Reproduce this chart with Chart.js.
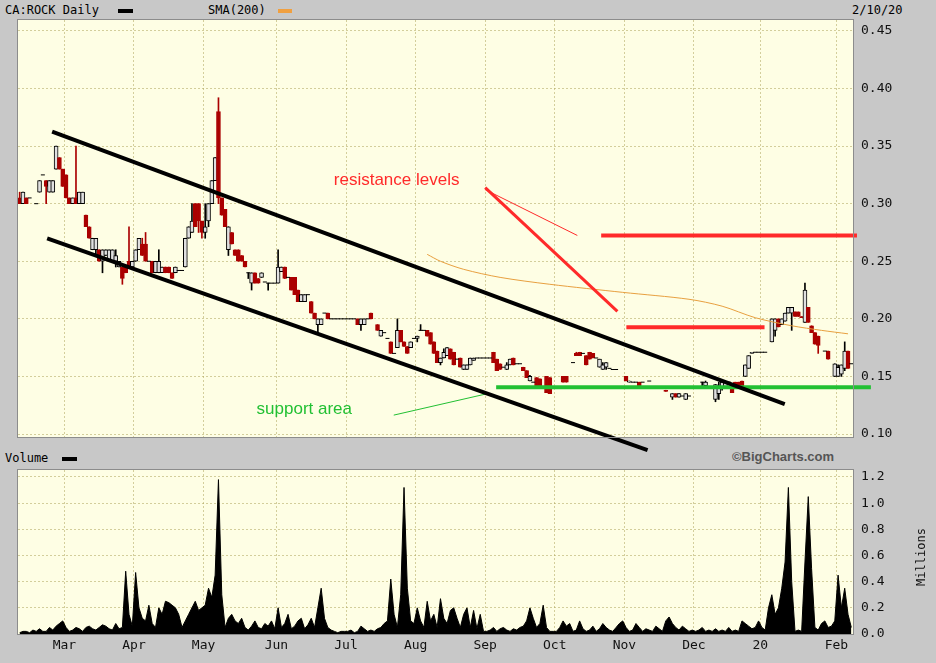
<!DOCTYPE html>
<html><head><meta charset="utf-8">
<script src="https://cdn.jsdelivr.net/npm/chart.js@4.4.1/dist/chart.umd.min.js"></script>
<style>
html,body{margin:0;padding:0;}
body{width:936px;height:663px;background:#c8c8c8;position:relative;overflow:hidden;font-family:'DejaVu Sans Mono',monospace;}
.t{position:absolute;font-size:12px;color:#000;white-space:nowrap;line-height:14px;}
.sw{position:absolute;height:4px;}
canvas{position:absolute;left:0;}
</style></head><body>
<div class="t" style="left:5px;top:3px">CA:ROCK Daily</div>
<div class="sw" style="left:118px;top:9px;width:15px;background:#000"></div>
<div class="t" style="left:208px;top:3px">SMA(200)</div>
<div class="sw" style="left:278px;top:9px;width:14px;background:#f0a040"></div>
<div class="t" style="left:852px;top:3px">2/10/20</div>
<div class="t" style="left:5px;top:451px">Volume</div>
<div class="sw" style="left:62px;top:457px;width:15px;background:#000"></div>
<div class="t" style="left:732px;top:450px;font-family:'Liberation Sans',sans-serif;font-weight:bold;font-size:13px;color:#555">©BigCharts.com</div>
<canvas id="vc" width="936" height="223" style="top:440px"></canvas>
<canvas id="pc" width="936" height="470" style="top:0"></canvas>
<script>
// ---- OHLC per trading day, grouped by month: [open, high, low, close]; null = no trade
const feb19=[[.305,.31,.30,.30],[.30,.31,.30,.31],[.305,.305,.30,.30],[.305,.305,.305,.305],null,[.30,.30,.30,.30],[.31,.32,.31,.32],[.325,.325,.325,.325],[.32,.32,.30,.315],[.31,.32,.31,.32],[.31,.32,.31,.32],[.33,.35,.33,.35],[.34,.34,.33,.33],[.33,.33,.315,.315]];
const mar19=[[.325,.325,.305,.305],[.305,.305,.30,.30],[.30,.305,.30,.305],[.305,.35,.30,.30],[.30,.31,.30,.31],[.30,.31,.30,.31],[.29,.29,.28,.28],[.28,.28,.27,.27],[.26,.27,.26,.27],[.26,.27,.255,.27],[.26,.26,.25,.25],[.25,.26,.24,.26],[.255,.26,.255,.26],[.25,.26,.25,.26],[.25,.26,.25,.26],[.25,.26,.245,.255],[.245,.25,.245,.25],[.245,.245,.23,.235],[.245,.245,.24,.24],[.25,.28,.245,.245],[.245,.25,.245,.25]];
const apr19=[[.25,.26,.25,.26],[.26,.27,.26,.27],[.265,.27,.255,.255],[.265,.275,.25,.25],[.25,.25,.25,.25],[.25,.25,.24,.24],[.24,.25,.24,.25],[.24,.26,.24,.25],[.24,.245,.24,.245],[.245,.245,.24,.24],[.245,.245,.24,.24],[.24,.24,.235,.235],[.24,.245,.24,.245],[.242,.242,.242,.242],[.242,.242,.242,.242],[.245,.27,.245,.27],[.27,.28,.27,.28],[.275,.30,.275,.285],[.30,.30,.28,.28],[.30,.30,.275,.285],[.285,.285,.27,.275]];
const may19=[[.275,.30,.27,.28],[.285,.30,.28,.30],[.30,.32,.30,.32],[.32,.34,.32,.34],[.38,.392,.30,.305],[.305,.305,.29,.29],[.295,.295,.28,.28],[.26,.28,.255,.28],[.275,.275,.265,.265],[.26,.26,.255,.255],[.26,.26,.25,.25],[.255,.255,.25,.25],[.25,.25,.245,.245],[.24,.24,.235,.24],[.231,.24,.225,.24],[.24,.24,.231,.231],[.235,.235,.231,.231],[.236,.24,.236,.24],[.232,.232,.232,.232],[.231,.231,.225,.231],[.231,.231,.231,.231],[.231,.231,.231,.231]];
const jun19=[[.231,.26,.231,.245],[.241,.245,.241,.245],[.245,.245,.235,.235],[.236,.236,.236,.236],[.236,.236,.225,.225],[.236,.236,.221,.221],[.225,.225,.215,.215],[.215,.221,.215,.221],[.215,.221,.215,.221],[.221,.221,.221,.221],[.215,.215,.205,.205],[.205,.205,.20,.20],[.195,.20,.187,.20],[.195,.20,.195,.20],[.205,.205,.205,.205],[.205,.205,.20,.20],[.20,.20,.20,.20],[.20,.20,.20,.20],[.20,.20,.20,.20],[.20,.20,.20,.20],[.20,.20,.20,.20]];
const jul19=[[.20,.20,.20,.20],[.20,.20,.20,.20],[.20,.20,.20,.20],[.20,.20,.195,.195],[.195,.20,.19,.20],[.195,.20,.195,.20],[.20,.20,.20,.20],[.205,.205,.20,.20],null,[.195,.195,.19,.19],[.185,.19,.185,.19],[.188,.188,.188,.188],[.183,.183,.183,.183],[.18,.18,.17,.17],[.17,.17,.17,.17],[.175,.20,.175,.19],[.19,.19,.18,.18],[.18,.18,.176,.176],[.176,.176,.17,.17],[.175,.18,.175,.18],[.183,.183,.183,.183]];
const aug19=[[.183,.185,.18,.185],[.19,.195,.19,.19],[.19,.19,.19,.19],[.19,.19,.185,.185],[.188,.188,.178,.178],[.18,.18,.17,.17],[.172,.172,.162,.162],[.162,.166,.16,.166],[.166,.174,.166,.171],[.168,.175,.168,.175],[.174,.174,.165,.165],[.171,.171,.16,.16],[.165,.165,.165,.165],[.166,.166,.158,.158],[.156,.16,.156,.16],[.156,.16,.156,.16],[.16,.166,.16,.166],[.164,.166,.164,.166],[.166,.166,.166,.166],[.166,.166,.166,.166],[.166,.166,.166,.166]];
const sep19=[[.166,.166,.166,.166],[.166,.166,.166,.166],[.171,.171,.162,.162],[.165,.165,.155,.155],[.161,.161,.156,.156],[.158,.158,.158,.158],[.156,.162,.156,.16],[.16,.165,.16,.165],[.166,.166,.16,.16],[.161,.161,.161,.161],[.161,.161,.161,.161],[.158,.158,.155,.155],[.155,.155,.149,.149],[.146,.151,.146,.15],[.145,.145,.145,.145],[.149,.149,.14,.14],[.148,.148,.14,.14],null,[.15,.15,.136,.136],[.149,.149,.135,.135],[.14,.14,.14,.14]];
const oct19=[[.14,.14,.14,.14],null,[.15,.15,.145,.145],[.15,.15,.145,.145],null,[.162,.162,.162,.162],[.17,.171,.168,.168],[.171,.171,.168,.168],[.17,.17,.17,.17],[.168,.168,.16,.16],[.171,.171,.165,.165],[.17,.17,.166,.166],[.166,.166,.166,.166],[.158,.165,.158,.165],[.156,.162,.156,.16],[.158,.162,.156,.162],[.157,.157,.157,.157],[.156,.156,.156,.156],[.156,.156,.156,.156],null,null];
const nov19=[[.15,.15,.146,.146],[.145,.146,.145,.146],[.145,.145,.145,.145],[.145,.145,.145,.145],[.145,.145,.142,.142],[.145,.145,.145,.145],null,[.146,.146,.146,.146],null,null,null,null,[.138,.138,.137,.137],null,[.132,.135,.13,.135],[.135,.135,.132,.132],[.132,.135,.132,.135],[.133,.133,.133,.133],[.13,.135,.13,.135],[.133,.133,.133,.133],null];
const dec19=[null,null,[.145,.145,.142,.145],[.142,.146,.142,.145],null,null,[.13,.143,.128,.143],[.135,.145,.13,.14],[.14,.145,.138,.145],[.14,.145,.14,.145],[.145,.145,.145,.145],[.142,.142,.136,.136],[.145,.145,.14,.14],[.145,.145,.141,.141],[.146,.146,.142,.142],[.15,.16,.15,.16],[.157,.168,.157,.168],[.17,.171,.17,.171],[.171,.171,.171,.171],[.171,.171,.171,.171]];
const jan20=[[.171,.171,.171,.171],[.171,.171,.171,.171],null,[.18,.20,.18,.20],[.19,.20,.185,.20],[.20,.20,.193,.193],[.195,.20,.195,.20],[.198,.205,.198,.205],[.205,.21,.205,.21],[.205,.21,.19,.21],[.206,.206,.202,.202],[.206,.206,.202,.202],[.202,.202,.201,.201],[.197,.231,.197,.225],[.21,.21,.197,.197],[.194,.194,.188,.188],[.188,.188,.178,.178],[.185,.185,.17,.177],null,[.172,.172,.172,.172],[.172,.172,.165,.165],null,[.15,.161,.15,.161]];
const feb20=[[.15,.16,.15,.158],[.152,.16,.15,.16],[.157,.18,.155,.172],[.172,.172,.157,.157],[.161,.161,.161,.161]];

// ---- Volume (millions) per trading day
const volFeb19=[0.01,0.02,0.02,0.01,0.03,0.02,0.04,0.02,0.02,0.05,0.03,0.06,0.08,0.1];
const volMar19=[0.05,0.02,0.03,0.05,0.04,0.02,0.05,0.06,0.04,0.03,0.05,0.07,0.06,0.04,0.03,0.08,0.04,0.05,0.48,0.15,0.06];
const volApr19=[0.47,0.2,0.12,0.1,0.22,0.08,0.05,0.2,0.15,0.25,0.24,0.22,0.2,0.15,0.05,0.1,0.15,0.2,0.25,0.18,0.2];
const volMay19=[0.22,0.35,0.28,0.45,1.18,0.3,0.05,0.12,0.15,0.1,0.08,0.12,0.05,0.03,0.06,0.1,0.05,0.04,0.08,0.06,0.1,0.04];
const volJun19=[0.2,0.05,0.08,0.15,0.04,0.06,0.1,0.12,0.04,0.07,0.12,0.05,0.2,0.35,0.12,0.05,0.03,0.02,0.01,0.02,0.02];
const volJul19=[0.02,0.03,0.01,0.02,0.06,0.04,0.02,0.03,0.02,0.04,0.05,0.08,0.1,0.42,0.15,0.05,0.3,1.12,0.35,0.1,0.08];
const volAug19=[0.2,0.1,0.05,0.25,0.1,0.15,0.05,0.27,0.12,0.08,0.18,0.2,0.12,0.05,0.15,0.2,0.05,0.18,0.04,0.15,0.02];
const volSep19=[0.02,0.03,0.05,0.02,0.04,0.05,0.03,0.02,0.04,0.03,0.05,0.06,0.1,0.2,0.12,0.05,0.08,0.22,0.05,0.02,0.02];
const volOct19=[0.02,0.05,0.1,0.06,0.08,0.02,0.03,0.1,0.04,0.02,0.03,0.06,0.02,0.04,0.08,0.05,0.03,0.02,0.05,0.08,0.1];
const volNov19=[0.05,0.02,0.03,0.08,0.05,0.02,0.04,0.03,0.02,0.06,0.04,0.02,0.1,0.13,0.08,0.05,0.03,0.06,0.04,0.02,0.03];
const volDec19=[0.02,0.03,0.05,0.02,0.03,0.02,0.04,0.02,0.03,0.02,0.05,0.02,0.03,0.02,0.1,0.08,0.06,0.04,0.05,0.1];
const volJan20=[0.05,0.03,0.2,0.3,0.15,0.2,0.35,0.55,1.12,0.4,0.02,0.03,0.02,0.55,1.05,0.5,0.05,0.03,0.08,0.1,0.05,0.06,0.1];
const volFeb20=[0.45,0.2,0.35,0.15,0.05];

const monthLabels=['','Mar','Apr','May','Jun','Jul','Aug','Sep','Oct','Nov','Dec','20','Feb'];
const priceTicks=[0.10,0.15,0.20,0.25,0.30,0.35,0.40,0.45];
const volTicks=[0,0.2,0.4,0.6,0.8,1.0,1.2];

// SMA(200) read at a few trading-day positions
const smaIdx=[123,127,134,145,160,182,202,212,222,233,242,250];
const smaVal=[.256,.250,.243,.236,.230,.223,.217,.211,.201,.194,.190,.187];

// hand-drawn annotations: [tradingDayIndex, price]
const channelUpper=[[9.8,.3625],[230.9,.1259]];
const channelLower=[[8.3,.2698],[189.5,.0861]];
const resistTop=[[175.5,.2724],[252.7,.2724]];
const resistMid=[[183.1,.1926],[224.8,.1926]];
const supportLine=[[143.8,.1406],[256.9,.1406]];
const arrowThick=[[140.5,.314],[180.4,.2065]];
const arrowThin=[[140.5,.3122],[168.3,.2724]];
const supportPointer=[[112.9,.1164],[140.5,.1346]];
const notes=[{text:'resistance levels',i:94.8,p:.320,color:'#ff2a2a'},{text:'support area',i:71.5,p:.1216,color:'#22c033'}];

// ---- build
const months=[feb19,mar19,apr19,may19,jun19,jul19,aug19,sep19,oct19,nov19,dec19,jan20,feb20];
const bars=months.flat();
const vols=[volFeb19,volMar19,volApr19,volMay19,volJun19,volJul19,volAug19,volSep19,volOct19,volNov19,volDec19,volJan20,volFeb20].flat();
const N=bars.length;
const monthTickVals=[];let acc=0;
months.forEach((m,k)=>{ if(k>0) monthTickVals.push(acc-0.5); acc+=m.length; });
const RED='#aa0000';
const wicks=[],bodies=[],flats=[];
bars.forEach((b,i)=>{ if(!b) return; const [o,h,l,c]=b;
  if(h>l) wicks.push({x:i,y:[l,h],d:c<o});
  if(o!==c) bodies.push({x:i,y:[o,c],d:c<o}); else flats.push({x:i,y:o});
});
const line=(pts,color,w,ord)=>({type:'line',data:pts.map(p=>({x:p[0],y:p[1]})),borderColor:color,borderWidth:w,pointRadius:0,clip:false,order:ord,tension:0});
const gridCol='rgba(175,165,95,0.55)';
const bgPlugin={id:'bg',
  beforeDraw(ch){const {ctx,chartArea:a}=ch;ctx.save();ctx.fillStyle='#fefee4';ctx.fillRect(a.left,a.top,a.right-a.left,a.bottom-a.top);ctx.restore();},
  afterDraw(ch){const {ctx,chartArea:a}=ch;ctx.save();ctx.strokeStyle='#8c8c8c';ctx.lineWidth=1;ctx.strokeRect(a.left-0.5,a.top-0.5,a.right-a.left+1,a.bottom-a.top+1);ctx.restore();}
};
const notesPlugin={id:'notes',afterDatasetsDraw(ch){const {ctx}=ch;const x=ch.scales.x,y=ch.scales.y;ctx.save();ctx.font='17px "Liberation Sans", Arial, sans-serif';ctx.textBaseline='middle';
  notes.forEach(n=>{ctx.fillStyle=n.color;ctx.fillText(n.text,x.getPixelForValue(n.i),y.getPixelForValue(n.p));});ctx.restore();}};
const tickFont={family:'DejaVu Sans Mono',size:13};

new Chart(document.getElementById('pc'),{
  type:'bar',
  data:{datasets:[
    line(channelUpper,'#000',4,1),line(channelLower,'#000',4,1),
    line(resistTop,'#ff2a2a',4,1),line(resistMid,'#ff2a2a',4,1),line(arrowThick,'#ff2a2a',3,1),line(arrowThin,'#ff2a2a',1,1),
    line(supportLine,'#22c033',4,1),line(supportPointer,'#22c033',1,1),
    {type:'line',data:smaIdx.map((v,k)=>({x:v,y:smaVal[k]})),borderColor:'#e8a040',borderWidth:1,pointRadius:0,order:3,tension:0.3},
    {type:'line',data:flats,showLine:false,pointStyle:'line',pointRadius:2,borderColor:'#000',borderWidth:1,order:4},
    {type:'bar',data:bodies,grouped:false,barThickness:4,borderWidth:1,borderSkipped:false,
      backgroundColor:c=>c.raw&&c.raw.d?RED:'#e0e0e0',borderColor:c=>c.raw&&c.raw.d?RED:'#000',order:4},
    {type:'bar',data:wicks,grouped:false,barThickness:1,borderWidth:0,
      backgroundColor:c=>c.raw&&c.raw.d?RED:'#000',order:5}
  ]},
  options:{responsive:false,animation:false,devicePixelRatio:1,
    layout:{padding:{left:18,top:20,right:0,bottom:33}},
    plugins:{legend:{display:false},tooltip:{enabled:false}},
    scales:{
      x:{type:'linear',min:-0.5,max:N-0.5,offset:false,
        afterBuildTicks:s=>{s.ticks=monthTickVals.map(v=>({value:v}));},
        afterFit:s=>{s.height=0;},
        ticks:{display:false},grid:{color:gridCol,drawTicks:false,offset:false},border:{display:false,dash:[2,2]}},
      y:{position:'right',min:0.0974,max:0.4595,
        afterBuildTicks:s=>{s.ticks=priceTicks.map(v=>({value:v}));},
        afterFit:s=>{s.width=83;},
        ticks:{padding:8,color:'#111',font:tickFont,callback:v=>v.toFixed(2)},
        grid:{color:gridCol,drawTicks:false},border:{display:false,dash:[2,2]}}
    }},
  plugins:[bgPlugin,notesPlugin]
});

const millionsPlugin={id:'mil',afterDraw(ch){const {ctx}=ch;ctx.save();ctx.translate(922,117);ctx.rotate(-Math.PI/2);ctx.font='12px "DejaVu Sans Mono"';ctx.fillStyle='#111';ctx.textAlign='center';ctx.textBaseline='middle';ctx.fillText('Millions',0,0);ctx.restore();}};
new Chart(document.getElementById('vc'),{
  type:'line',
  data:{datasets:[{data:vols.map((v,i)=>({x:i,y:v})),borderColor:'#000',backgroundColor:'#000',borderWidth:1,pointRadius:0,fill:'origin',tension:0}]},
  options:{responsive:false,animation:false,devicePixelRatio:1,
    layout:{padding:{left:18,top:30,right:0,bottom:0}},
    plugins:{legend:{display:false},tooltip:{enabled:false}},
    scales:{
      x:{type:'linear',min:-0.5,max:N-0.5,offset:false,
        afterBuildTicks:s=>{s.ticks=monthTickVals.map(v=>({value:v}));},
        afterFit:s=>{s.height=29;},
        ticks:{autoSkip:false,maxRotation:0,padding:4,color:'#111',font:tickFont,callback:v=>{const k=monthTickVals.indexOf(v);return monthLabels[k+1]||'';}},
        grid:{color:gridCol,drawTicks:false},border:{display:false,dash:[2,2]}},
      y:{position:'right',min:0,max:1.2535,
        afterBuildTicks:s=>{s.ticks=volTicks.map(v=>({value:v}));},
        afterFit:s=>{s.width=83;},
        ticks:{padding:8,color:'#111',font:tickFont,callback:v=>v.toFixed(1)},
        grid:{color:gridCol,drawTicks:false},border:{display:false,dash:[2,2]}}
    }},
  plugins:[bgPlugin,millionsPlugin]
});
</script>
</body></html>
